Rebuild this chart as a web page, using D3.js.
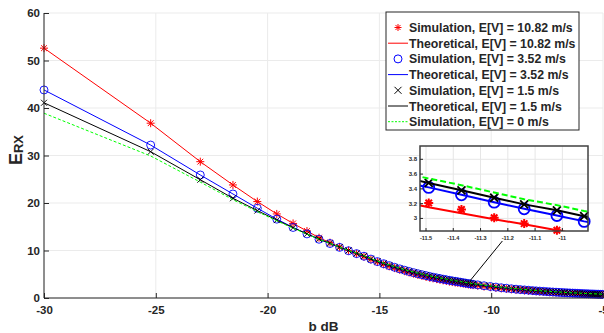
<!DOCTYPE html>
<html>
<head>
<meta charset="utf-8">
<script src="https://cdn.jsdelivr.net/npm/d3@7"></script>
<style>
  body { margin: 0; background: #fff; }
  svg { display: block; font-family: "Liberation Sans", Arial, sans-serif; }
  text { fill: #262626; font-weight: bold; }
</style>
</head>
<body>
<svg id="svg"></svg>
<script>
// b in dB (x axis)
const bdB = [-30.00,-25.23,-23.01,-21.55,-20.46,-19.59,-18.86,-18.24,-17.70,-17.21,-16.78,-16.38,-16.02,-15.69,
  -15.38,-15.09,-14.81,-14.56,-14.32,-14.09,-13.87,-13.67,-13.47,-13.28,-13.10,-12.92,-12.76,-12.60,-12.44,-12.29,
  -12.15,-12.01,-11.87,-11.74,-11.61,-11.49,-11.37,-11.25,-11.14,-11.02,-10.92,-10.81,
  -10.60,-10.32,-10.04,-9.79,-9.55,-9.32,-9.10,-8.89,-8.70,-8.51,-8.33,-8.15,-7.99,-7.83,-7.67,-7.52,-7.38,-7.24,
  -7.10,-6.97,-6.84,-6.72,-6.60,-6.48,-6.36,-6.25,-6.14,-6.04,-5.93,-5.83,-5.73,-5.64,-5.54,-5.45,-5.36,-5.27,
  -5.19,-5.10,-5.02];

// E_RX, E[V] = 10.82 m/s
const eRedTheory = [52.6,36.8,28.7,23.8,20.3,17.7,15.7,14.1,12.7,11.65,10.75,9.98,9.3,8.7,
  8.1,7.58,7.09,6.67,6.29,5.94,5.64,5.37,5.11,4.88,4.67,4.47,4.29,4.13,3.97,3.83,3.70,3.58,3.46,3.35,3.25,3.15,3.07,2.99,2.92,2.84,2.77,2.71,
  2.59,2.42,2.27,2.14,2.03,1.92,1.83,1.74,1.67,1.60,1.53,1.47,1.41,1.36,1.32,1.27,1.23,1.19,1.15,1.12,1.09,1.06,1.03,1.00,
  0.97,0.95,0.93,0.90,0.88,0.86,0.84,0.82,0.81,0.79,0.77,0.76,0.74,0.73,0.71];
const eRedSim = [52.6,36.8,28.7,23.8,20.3,17.7,15.7,14.1,12.7,11.65,10.75,9.98,9.3,8.7,
  8.1,7.58,7.09,6.67,6.29,5.94,5.64,5.37,5.11,4.88,4.67,4.47,4.29,4.13,3.97,3.83,3.70,3.58,3.46,3.35,3.25,3.21,3.12,3.01,2.93,2.84,2.77,2.71,
  2.59,2.42,2.27,2.14,2.03,1.92,1.83,1.74,1.67,1.60,1.53,1.47,1.41,1.36,1.32,1.27,1.23,1.19,1.15,1.12,1.09,1.06,1.03,1.00,
  0.97,0.95,0.93,0.90,0.88,0.86,0.84,0.82,0.81,0.79,0.77,0.76,0.74,0.73,0.71];
// E[V] = 3.52 m/s
const eBlueTheory = [43.8,32.2,25.9,21.9,18.9,16.6,14.85,13.5,12.37,11.47,10.66,9.95,9.34,8.79,
  8.19,7.67,7.22,6.82,6.46,6.13,5.84,5.58,5.33,5.11,4.91,4.72,4.54,4.38,4.23,4.09,3.96,3.84,3.72,3.61,3.51,3.42,3.32,3.22,3.13,3.04,2.96,2.89,
  2.76,2.58,2.42,2.29,2.16,2.05,1.95,1.85,1.77,1.70,1.63,1.56,1.50,1.45,1.40,1.35,1.30,1.26,1.22,1.19,1.15,1.12,1.09,1.06,
  1.03,1.01,0.98,0.96,0.93,0.91,0.89,0.87,0.85,0.84,0.82,0.80,0.79,0.77,0.76];
const eBlueSim = eBlueTheory;
// E[V] = 1.5 m/s
const eBlackTheory = [41.1,30.8,24.9,21.0,18.4,16.4,14.8,13.5,12.4,11.5,10.7,10.0,9.4,8.85,
  8.26,7.74,7.29,6.89,6.53,6.20,5.91,5.65,5.40,5.18,4.98,4.79,4.61,4.45,4.30,4.16,4.03,3.91,3.79,3.68,3.58,3.48,3.38,3.28,3.19,3.11,3.03,2.96,
  2.82,2.64,2.48,2.34,2.21,2.10,2.00,1.90,1.82,1.74,1.67,1.60,1.54,1.49,1.44,1.39,1.34,1.30,1.26,1.22,1.19,1.15,1.12,1.09,
  1.06,1.04,1.01,0.99,0.96,0.94,0.92,0.90,0.88,0.86,0.84,0.83,0.81,0.79,0.78];
const eBlackSim = eBlackTheory;
// E[V] = 0 m/s
const eGreenSim = [38.9,29.9,24.4,20.7,18.2,16.25,14.7,13.45,12.37,11.5,10.71,10.02,9.44,8.89,
  8.31,7.79,7.34,6.95,6.59,6.26,5.97,5.71,5.46,5.24,5.04,4.85,4.67,4.51,4.36,4.22,4.09,3.97,3.85,3.74,3.64,3.54,3.45,3.35,3.26,3.18,3.10,3.03,
  2.89,2.71,2.54,2.40,2.27,2.15,2.05,1.95,1.87,1.79,1.72,1.65,1.58,1.53,1.48,1.43,1.38,1.34,1.30,1.26,1.22,1.19,1.15,1.12,
  1.09,1.07,1.04,1.02,0.99,0.97,0.95,0.93,0.91,0.89,0.87,0.85,0.83,0.82,0.80];

const legendLabels = ["Simulation, E[V] = 10.82 m/s", "Theoretical, E[V] = 10.82 m/s",
  "Simulation, E[V] = 3.52 m/s", "Theoretical, E[V] = 3.52 m/s",
  "Simulation, E[V] = 1.5 m/s", "Theoretical, E[V] = 1.5 m/s",
  "Simulation, E[V] = 0 m/s"];
const xTicks = [-30, -25, -20, -15, -10, -5];
const yTicks = [0, 10, 20, 30, 40, 50, 60];
const insetXTicks = [-11.5, -11.4, -11.3, -11.2, -11.1, -11];
const insetYTicks = [3, 3.2, 3.4, 3.6, 3.8];

// plotting order as in the figure
const series = [
  {vals: eRedSim, color: "#ff0000", marker: "star"},
  {vals: eRedTheory, color: "#ff0000", line: true},
  {vals: eBlueSim, color: "#0000ff", marker: "circle"},
  {vals: eBlueTheory, color: "#0000ff", line: true},
  {vals: eBlackSim, color: "#000000", marker: "cross"},
  {vals: eBlackTheory, color: "#000000", line: true},
  {vals: eGreenSim, color: "#00ff00", line: true, dash: true}
];

let width = 604, height = 333;
let svg = d3.select("#svg").attr("width", width).attr("height", height);

let x = d3.scaleLinear().domain([-30, -5]).range([44, 603]);
let y = d3.scaleLinear().domain([0, 60]).range([298, 13]);

// plain hyphen for negative numbers, like the original
const fmt = d => String(d);

function markerPath(type, s) {
  if (type == "star") {
    let k = s * 0.72;
    return `M${-s},0L${s},0M0,${-s}L0,${s}M${-k},${-k}L${k},${k}M${-k},${k}L${k},${-k}`;
  }
  if (type == "cross") return `M${-s},${-s}L${s},${s}M${-s},${s}L${s},${-s}`;
  return d3.arc()({innerRadius: 0, outerRadius: s, startAngle: 0, endAngle: 2 * Math.PI});
}

function drawSeries(g, sx, sy, opt) {
  let [x0, x1] = sx.domain(), [y0, y1] = sy.domain();
  series.forEach(s => {
    let pts = bdB.map((d, i) => [d, s.vals[i]]);
    if (s.line) {
      g.append("path")
        .attr("clip-path", opt.clip)
        .attr("d", d3.line().x(d => sx(d[0])).y(d => sy(d[1]))(pts))
        .attr("fill", "none")
        .attr("stroke", s.color)
        .attr("stroke-width", opt.lw)
        .attr("stroke-dasharray", s.dash ? opt.dash : null);
    } else {
      let inside = pts.filter(d => d[0] >= x0 - 0.001 && d[0] <= x1 + 0.001 && d[1] >= y0 && d[1] <= y1);
      g.append("g").selectAll("path")
        .data(inside)
        .join("path")
        .attr("transform", d => `translate(${sx(d[0])},${sy(d[1])})`)
        .attr("d", markerPath(s.marker, s.marker == "circle" ? opt.r : (s.marker == "star" ? opt.star : opt.cross)))
        .attr("fill", "none")
        .attr("stroke", s.color)
        .attr("stroke-width", s.marker == "star" ? opt.lw : opt.lw * 0.9);
    }
  });
}

// grid
let grid = svg.append("g");
grid.selectAll(".gx").data(xTicks).join("line")
  .attr("x1", d => x(d)).attr("x2", d => x(d)).attr("y1", y(0)).attr("y2", y(60))
  .attr("stroke", "#ebebeb");
grid.selectAll(".gy").data(yTicks).join("line")
  .attr("x1", x(-30)).attr("x2", x(-5)).attr("y1", d => y(d)).attr("y2", d => y(d))
  .attr("stroke", "#ebebeb");

svg.append("clipPath").attr("id", "mainclip").append("rect")
  .attr("x", x(-30)).attr("y", y(60)).attr("width", x(-5) - x(-30)).attr("height", y(0) - y(60));

drawSeries(svg.append("g"), x, y, {clip: "url(#mainclip)", lw: 1, dash: "3,2", r: 4, star: 4, cross: 3});

// axes
let xAxis = svg.append("g").attr("transform", `translate(0,${y(0)})`)
  .call(d3.axisBottom(x).tickValues(xTicks).tickSize(-5).tickPadding(8).tickFormat(fmt));
let yAxis = svg.append("g").attr("transform", `translate(${x(-30)},0)`)
  .call(d3.axisLeft(y).tickValues(yTicks).tickSize(-5).tickPadding(4).tickFormat(fmt));
[xAxis, yAxis].forEach(a => {
  a.selectAll("path, line").attr("stroke", "#262626");
  a.selectAll("text").attr("font-size", 11.5).attr("font-weight", "bold")
    .attr("font-family", "Liberation Sans, Arial, sans-serif").attr("fill", "#262626");
});
xAxis.select(".domain").attr("d", `M${x(-30)},0H${x(-5)}`);
yAxis.select(".domain").attr("d", `M0,${y(0)}V${y(60)}`);

// axis labels
svg.append("text").attr("x", (x(-30) + x(-5)) / 2).attr("y", 331)
  .attr("text-anchor", "middle").attr("font-size", 13.5).text("b dB");
let yl = svg.append("text").attr("transform", "translate(22,150) rotate(-90)")
  .attr("text-anchor", "middle").attr("font-size", 18);
yl.append("tspan").text("E");
yl.append("tspan").attr("font-size", 13).attr("dy", 1).text("RX");

// legend
let lg = svg.append("g").attr("transform", "translate(386,12)");
lg.append("rect").attr("width", 193).attr("height", 118)
  .attr("fill", "#fff").attr("stroke", "#262626").attr("stroke-width", 1);
legendLabels.forEach((lab, i) => {
  let s = series[i], cy = 15.5 + i * 15.7;
  if (s.line) {
    lg.append("line").attr("x1", 2).attr("x2", 22).attr("y1", cy).attr("y2", cy)
      .attr("stroke", s.color).attr("stroke-width", 1)
      .attr("stroke-dasharray", s.dash ? "2,1.5" : null);
  } else {
    lg.append("path").attr("transform", `translate(12,${cy})`)
      .attr("d", markerPath(s.marker, s.marker == "circle" ? 4 : 3.5))
      .attr("fill", "none").attr("stroke", s.color);
  }
  lg.append("text").attr("x", 23).attr("y", cy + 4.5).attr("font-size", 12.3).text(lab);
});

// inset
let ix = d3.scaleLinear().domain([-11.522, -10.906]).range([420, 588]);
let iy = d3.scaleLinear().domain([2.83, 3.98]).range([231, 146]);

// pointer from main curve to inset
svg.append("line")
  .attr("x1", x(-10.95)).attr("y1", y(3.6))
  .attr("x2", ix(-11.22)).attr("y2", iy(2.83) + 10)
  .attr("stroke", "#000").attr("stroke-width", 1);

let ins = svg.append("g");
ins.append("rect").attr("x", 420).attr("y", 146).attr("width", 168).attr("height", 85).attr("fill", "#fff");
ins.selectAll(".igx").data(insetXTicks).join("line")
  .attr("x1", d => ix(d)).attr("x2", d => ix(d)).attr("y1", 146).attr("y2", 231).attr("stroke", "#e6e6e6");
ins.selectAll(".igy").data(insetYTicks).join("line")
  .attr("x1", 420).attr("x2", 588).attr("y1", d => iy(d)).attr("y2", d => iy(d)).attr("stroke", "#e6e6e6");

ins.append("clipPath").attr("id", "insclip").append("rect")
  .attr("x", 420).attr("y", 146).attr("width", 168).attr("height", 85);
drawSeries(ins.append("g"), ix, iy, {clip: "url(#insclip)", lw: 2, dash: "6,3", r: 5.5, star: 4.5, cross: 4});

ins.append("rect").attr("x", 420).attr("y", 146).attr("width", 168).attr("height", 85)
  .attr("fill", "none").attr("stroke", "#404040").attr("stroke-width", 1.5);
ins.selectAll(".itx").data(insetXTicks).join("line")
  .attr("x1", d => ix(d)).attr("x2", d => ix(d)).attr("y1", 231).attr("y2", 228).attr("stroke", "#262626");
ins.selectAll(".ity").data(insetYTicks).join("line")
  .attr("x1", 420).attr("x2", 423).attr("y1", d => iy(d)).attr("y2", d => iy(d)).attr("stroke", "#262626");
ins.selectAll(".itxl").data(insetXTicks).join("text")
  .attr("x", d => ix(d)).attr("y", 240).attr("text-anchor", "middle").attr("font-size", 5.5)
  .text(fmt);
ins.selectAll(".ityl").data(insetYTicks).join("text")
  .attr("x", 417).attr("y", d => iy(d) + 2).attr("text-anchor", "end").attr("font-size", 6)
  .text(fmt);
</script>
</body>
</html>
